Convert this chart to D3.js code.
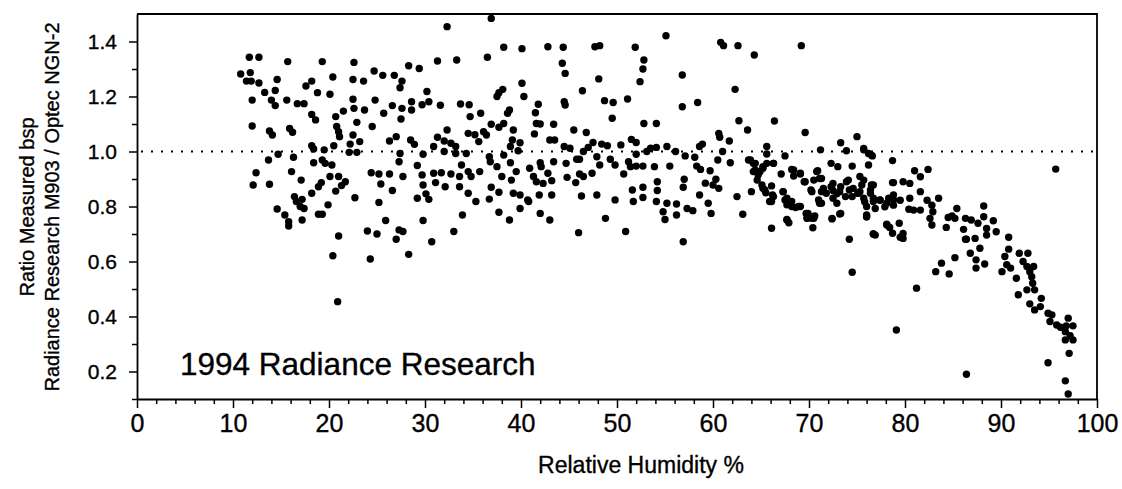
<!DOCTYPE html>
<html>
<head>
<meta charset="utf-8">
<script src="https://cdn.jsdelivr.net/npm/d3@7"></script>
<style>
  body { margin: 0; background: #fff; }
  svg text { font-family: "Liberation Sans", Arial, sans-serif; fill: #000; stroke: #000; stroke-width: 0.35px; }
</style>
</head>
<body>
<div id="chart"></div>
<script>
// x ticks / y ticks
const xMajorTicks = [0, 10, 20, 30, 40, 50, 60, 70, 80, 90, 100];
const yMajorTicks = [0.2, 0.4, 0.6, 0.8, 1.0, 1.2, 1.4];
const referenceRatio = 1.0;

// [relative humidity %, ratio]
const samples1994 = [
  [11.7,1.343],[12.7,1.343],[15.7,1.327],[19.3,1.327],[22.6,1.324],[10.8,1.282],[11.8,1.287],[11.4,1.256],[11.9,1.256],[12.7,1.249],
  [14.6,1.262],[18.2,1.256],[17.6,1.238],[20.4,1.271],[22.5,1.262],[23.6,1.256],[24.7,1.293],[25.6,1.277],[26.8,1.277],[27.6,1.256],
  [27.4,1.232],[28.3,1.312],[29.4,1.302],[31.3,1.329],[33.3,1.333],[32.3,1.454],[36.9,1.484],[36.5,1.343],[38.2,1.379],[40.1,1.374],
  [40.1,1.248],[40.3,1.2],[37.5,1.2],[38.1,1.226],[37.7,1.214],
  [12.0,1.187],[13.3,1.215],[14.4,1.222],[14.0,1.187],[14.4,1.167],[15.6,1.187],[16.7,1.174],[17.4,1.174],[18.8,1.214],[20.1,1.208],
  [22.5,1.19],[22.6,1.157],[23.7,1.151],[24.8,1.187],[18.2,1.135],[18.6,1.115],[20.7,1.127],[21.5,1.147],[22.9,1.106],[25.7,1.139],
  [26.6,1.167],[27.6,1.157],[27.5,1.118],[28.6,1.151],[28.6,1.181],[29.7,1.17],[30.4,1.181],[30.2,1.218],[31.6,1.168],[33.7,1.173],
  [34.6,1.17],[34.7,1.127],[35.8,1.139],[38.8,1.151],[38.6,1.139],[36.9,1.099],[37.7,1.088],[38.2,1.102],
  [12.0,1.093],[13.8,1.075],[14.1,1.06],[15.9,1.084],[16.2,1.07],[20.8,1.091],[21.0,1.072],[21.1,1.054],[20.5,1.021],[18.2,1.021],
  [18.4,1.009],[19.5,1.006],[22.5,1.06],[22.2,1.027],[23.2,1.036],[22.1,0.997],[22.9,0.997],[24.5,1.091],[26.3,1.038],[27.0,1.054],
  [28.5,1.042],[28.9,1.026],[32.3,1.078],[31.3,1.052],[30.9,1.018],[32.0,1.038],[32.7,1.03],[33.2,1.018],[34.5,1.066],[35.2,1.061],
  [35.6,1.036],[36.1,1.072],[36.4,1.06],[39.2,1.078],[39.1,1.042],[39.9,1.032],[38.9,1.018],[39.7,1.003],
  [14.7,0.99],[13.7,0.969],[16.3,0.979],[19.3,0.969],[19.6,0.957],[20.3,0.951],[18.4,0.959],[27.4,0.993],[27.3,0.963],[29.8,0.99],
  [32.0,1.0],[33.2,0.993],[34.3,0.993],[36.7,0.981],[36.8,0.963],[38.2,0.987],[38.9,0.959],
  [12.4,0.923],[12.1,0.878],[13.8,0.881],[16.1,0.927],[17.1,0.896],[20.1,0.909],[21.0,0.909],[19.2,0.887],[18.9,0.872],[18.2,0.848],
  [21.7,0.89],[21.3,0.876],[20.7,0.856],[24.4,0.923],[25.2,0.918],[26.3,0.918],[27.7,0.909],[25.4,0.882],[26.6,0.858],[29.2,0.949],
  [29.7,0.915],[29.8,0.878],[30.1,0.846],[30.4,0.826],[29.2,0.83],[30.9,0.921],[31.7,0.923],[32.7,0.918],[32.1,0.872],[31.1,0.887],
  [33.6,0.909],[33.8,0.951],[34.5,0.927],[34.8,0.909],[33.6,0.872],[34.5,0.848],[35.7,0.927],[36.9,0.87],[36.7,0.827],[35.3,0.818],
  [37.7,0.852],[37.5,0.945],[38.0,0.909],[39.0,0.896],[39.5,0.927],[39.2,0.848],[39.9,0.842],[40.7,0.824],[39.9,0.793],[37.7,0.779],
  [38.8,0.751],[33.9,0.769],[29.8,0.749],[25.9,0.749],[25.2,0.815],[22.7,0.832],[19.9,0.806],[16.4,0.836],[16.6,0.818],[17.0,0.8],
  [17.4,0.793],[17.2,0.826],[14.6,0.791],[15.4,0.769],[15.8,0.745],[15.8,0.729],[17.2,0.751],[18.9,0.772],[19.3,0.772],[21.0,0.693],
  [24.0,0.711],[25.0,0.7],[27.3,0.715],[27.7,0.709],[27.0,0.681],[30.7,0.672],[33.0,0.709],
  [20.4,0.621],[20.9,0.454],[24.3,0.609],[28.3,0.626],
  [42.8,1.381],[44.4,1.379],[47.7,1.381],[48.2,1.385],[51.9,1.379],[55.1,1.421],[60.8,1.397],[61.1,1.385],[62.6,1.385],[64.3,1.351],
  [69.2,1.385],[44.3,1.321],[44.6,1.284],[52.8,1.333],[52.7,1.3],[52.4,1.254],[48.1,1.264],[46.4,1.221],[56.8,1.278],[62.3,1.226],
  [48.7,1.185],[49.6,1.178],[51.1,1.191],[44.5,1.181],[44.6,1.169],[41.8,1.172],[56.8,1.163],[58.4,1.178],[41.5,1.141],[49.5,1.121],
  [62.7,1.112],[66.4,1.111],[52.8,1.102],[54.1,1.102],[41.6,1.102],[42.0,1.1],[43.4,1.099],[45.5,1.078],[46.8,1.069],[41.4,1.064],
  [63.6,1.078],[69.6,1.069],[60.6,1.066],[60.7,1.052],[61.7,1.038],[75.0,1.054],[73.3,1.032],[71.2,1.006],[73.9,1.003],[75.7,1.006],
  [76.2,0.993],[76.6,0.984],[65.6,1.018],[65.6,0.991],[67.5,0.984],
  [43.0,1.042],[43.5,1.042],[44.5,1.018],[45.1,1.012],[47.5,1.033],[48.4,1.027],[49.0,1.021],[50.4,1.024],[51.5,1.044],[52.0,1.033],
  [53.5,1.012],[54.1,1.015],[55.2,1.018],[56.1,1.0],[58.6,1.018],[58.9,1.027],[47.0,1.015],[46.5,1.0],[53.1,1.0],
  [42.0,0.959],[42.1,0.945],[43.4,0.963],[44.7,0.957],[45.8,0.972],[46.1,0.972],[47.9,0.981],[49.3,0.972],[49.8,0.951],[51.2,0.963],
  [52.0,0.99],[52.0,0.947],[52.7,0.947],[53.9,0.945],[55.5,0.947],[57.1,0.984],[58.1,0.979],[58.3,0.947],[58.7,0.935],[59.7,0.93],
  [60.5,0.969],[61.0,1.0],[61.8,0.959],[63.7,0.969],[64.2,0.957],[64.4,0.933],[64.9,0.927],[65.2,0.945],[66.3,0.957],[67.1,0.918],
  [68.2,0.935],[68.4,0.911],[69.1,0.918],[69.5,0.89],[70.3,0.854],[70.9,0.93],[71.1,0.902],[72.3,0.957],[73.0,0.945],[74.5,0.947],
  [75.3,0.909],[76.2,0.951],[78.7,0.967],[78.7,0.887],
  [40.9,0.939],[41.3,0.909],[41.6,0.89],[42.3,0.884],[43.2,0.894],[42.8,0.921],[44.8,0.906],[45.7,0.887],[46.1,0.918],[46.5,0.909],
  [47.4,0.921],[48.2,0.951],[50.7,0.918],[51.4,0.945],[51.6,0.86],[52.7,0.87],[54.2,0.89],[54.2,0.858],[56.9,0.87],[57.0,0.899],
  [59.2,0.885],[60.0,0.878],[60.3,0.899],[60.6,0.866],[58.6,0.842],[59.5,0.812],[59.8,0.775],[62.5,0.836],[63.1,0.772],[64.0,0.854],
  [65.2,0.866],[65.5,0.85],[65.9,0.818],[66.3,0.836],[67.3,0.854],[67.5,0.824],[67.7,0.806],[68.2,0.8],[68.6,0.796],[69.1,0.8],
  [67.7,0.753],[67.9,0.741],[66.1,0.721],[69.7,0.775],[69.8,0.757],[70.3,0.757],[70.6,0.766],[70.4,0.723],[71.1,0.812],[70.2,0.86],
  [71.0,0.824],[71.3,0.854],[72.3,0.872],[72.5,0.858],[72.4,0.755],[72.9,0.846],[73.3,0.872],[73.9,0.89],[74.2,0.86],[74.5,0.836],
  [75.1,0.848],[75.7,0.83],[76.0,0.8],[76.7,0.818],[76.0,0.769],[76.5,0.878],[77.4,0.824],[78.1,0.812],[78.8,0.824],[78.1,0.736],
  [78.7,0.703],[76.9,0.696],[74.2,0.681],[73.3,0.775],[46.0,0.705],[50.9,0.709],[56.9,0.672],[42.0,0.775],[43.0,0.751],[40.8,0.818],
  [41.9,0.842],[43.2,0.842],[46.3,0.838],[47.9,0.842],[49.8,0.824],[48.8,0.757],[51.7,0.818],[52.7,0.833],[54.1,0.818],[55.2,0.812],
  [54.8,0.781],[56.2,0.809],[56.2,0.769],[55.0,0.753],[57.3,0.793],[57.9,0.785],[74.5,0.561],
  [63.9,0.969],[64.4,0.957],[64.2,0.927],[64.7,0.915],[64.6,0.896],[65.1,0.878],[65.4,0.86],[65.6,0.957],[66.3,0.957],[65.2,0.939],
  [66.1,0.875],[66.2,0.842],[66.1,0.818],[67.3,0.854],[67.7,0.83],[68.2,0.818],[68.9,0.8],[68.4,0.933],[69.1,0.921],[69.6,0.89],
  [70.5,0.896],[70.8,0.927],[71.3,0.902],[71.5,0.866],[71.8,0.848],[72.5,0.83],[72.5,0.884],[73.2,0.854],[73.8,0.836],[74.1,0.896],
  [74.6,0.866],[75.1,0.848],[75.5,0.878],[76.4,0.86],[76.7,0.83],[72.9,0.812],[71.3,0.812],[69.9,0.775],[70.5,0.757],[67.7,0.751],
  [69.8,0.757],[72.4,0.757],[73.2,0.773],[76.0,0.763],[76.7,0.7],
  [75.7,1.011],[76.5,0.987],[81.0,0.93],[82.4,0.935],[81.6,0.908],[79.8,0.89],[80.5,0.884],[78.8,0.887],[76.7,0.878],[75.7,0.896],
  [75.3,0.854],[76.4,0.848],[77.4,0.823],[78.3,0.83],[78.8,0.842],[79.5,0.823],[78.8,0.805],[77.9,0.799],[75.8,0.817],[76.9,0.793],
  [80.5,0.83],[81.6,0.854],[82.3,0.823],[83.5,0.83],[82.8,0.805],[80.9,0.787],[81.6,0.787],[82.9,0.781],[85.4,0.793],[84.5,0.76],
  [85.2,0.757],[86.3,0.757],[86.9,0.751],[88.2,0.802],[88.2,0.763],[89.2,0.748],[87.6,0.739],[86.1,0.717],[88.5,0.72],[89.5,0.708],
  [90.8,0.688],[84.3,0.724],[82.6,0.757],[82.8,0.733],[76.0,0.763],[78.1,0.733],[78.4,0.724],[79.4,0.739],[79.8,0.702],[79.8,0.684],
  [76.7,0.7],[95.7,0.936],[84.9,0.766],[88.5,0.696],[87.3,0.684],[86.3,0.681],[79.5,0.688],[80.4,0.79],
  [86.4,0.681],[87.8,0.648],[86.8,0.63],[87.4,0.606],[87.4,0.576],[88.3,0.591],[85.2,0.614],[83.8,0.594],[83.2,0.563],[84.6,0.555],
  [81.2,0.503],[79.1,0.351],[86.4,0.19],[90.8,0.645],[90.4,0.618],[90.6,0.588],[90.1,0.563],[91.0,0.576],[91.9,0.63],[92.8,0.63],
  [92.3,0.6],[92.7,0.582],[93.4,0.582],[93.0,0.563],[93.2,0.545],[93.3,0.521],[93.5,0.497],[91.6,0.539],[91.8,0.479],[92.7,0.497],
  [94.2,0.466],[94.1,0.436],[93.0,0.446],[93.5,0.424],[94.9,0.412],[95.3,0.406],[95.1,0.382],[95.8,0.369],[96.2,0.361],[96.8,0.366],
  [97.0,0.394],[97.5,0.366],[96.7,0.345],[97.2,0.33],[96.7,0.315],[97.5,0.315],[97.1,0.266],[94.9,0.232],[96.7,0.166],[97.0,0.118]
];

const width = 1122, height = 489;
const plot = { left: 137, right: 1097, top: 14, bottom: 399 };

const svg = d3.select("#chart")
  .append("svg")
  .attr("width", width)
  .attr("height", height)
  .attr("viewBox", `0 0 ${width} ${height}`);

svg.append("rect").attr("width", width).attr("height", height).attr("fill", "#fff");

// scales
const x = d3.scaleLinear().domain([0, 100]).range([plot.left, plot.right]);
const y = d3.scaleLinear().domain([0.1, 1.5]).range([plot.bottom, plot.top]);

// minor ticks every 2 % / 0.1
const xMinor = d3.range(0, 100, 2).filter(v => v % 10 !== 0);
const yMinor = d3.range(1, 15).map(v => v / 10).filter(v => Math.round(v * 10) % 2 !== 0);

// frame (top + right)
svg.append("path")
  .attr("d", `M${plot.left},${plot.top}H${plot.right}V${plot.bottom}`)
  .attr("fill", "none")
  .attr("stroke", "#000")
  .attr("stroke-width", 1.8);

// x axis
const xAxis = svg.append("g")
  .attr("transform", `translate(0,${plot.bottom})`)
  .call(d3.axisBottom(x).tickValues(xMajorTicks).tickSize(9).tickSizeOuter(0).tickPadding(6).tickFormat(d3.format("d")));
svg.append("g")
  .attr("transform", `translate(0,${plot.bottom})`)
  .call(d3.axisBottom(x).tickValues(xMinor).tickSize(5).tickFormat(""))
  .call(g => g.select(".domain").remove());

// y axis
const yAxis = svg.append("g")
  .attr("transform", `translate(${plot.left},0)`)
  .call(d3.axisLeft(y).tickValues(yMajorTicks).tickSize(8).tickSizeOuter(0).tickPadding(12).tickFormat(d3.format(".1f")));
svg.append("g")
  .attr("transform", `translate(${plot.left},0)`)
  .call(d3.axisLeft(y).tickValues(yMinor).tickSize(5).tickFormat(""))
  .call(g => g.select(".domain").remove());

svg.selectAll(".domain").attr("stroke", "#000").attr("stroke-width", 1.8);
svg.selectAll(".tick line").attr("stroke", "#000").attr("stroke-width", 1.5);
xAxis.selectAll("text").style("font-size", "25px");
yAxis.selectAll("text").style("font-size", "21px");

// dotted reference line at ratio = 1
svg.append("line")
  .attr("x1", x(0) + 4)
  .attr("x2", x(100))
  .attr("y1", y(referenceRatio))
  .attr("y2", y(referenceRatio))
  .attr("stroke", "#000")
  .attr("stroke-width", 2)
  .attr("stroke-dasharray", "2,8");

// points
svg.append("g")
  .selectAll("circle")
  .data(samples1994)
  .join("circle")
  .attr("cx", d => x(d[0]))
  .attr("cy", d => y(d[1]))
  .attr("r", 3.7)
  .attr("fill", "#000");

// labels
svg.append("text")
  .attr("x", 180)
  .attr("y", 375)
  .style("font-size", "31.5px")
  .text("1994 Radiance Research");

svg.append("text")
  .attr("x", 641)
  .attr("y", 473)
  .attr("text-anchor", "middle")
  .style("font-size", "23px")
  .text("Relative Humidity %");

svg.append("text")
  .attr("transform", "translate(34,207) rotate(-90)")
  .attr("text-anchor", "middle")
  .style("font-size", "20px")
  .text("Ratio Measured bsp");

svg.append("text")
  .attr("transform", "translate(59,207) rotate(-90)")
  .attr("text-anchor", "middle")
  .style("font-size", "20px")
  .text("Radiance Research M903 / Optec NGN-2");
</script>
</body>
</html>
